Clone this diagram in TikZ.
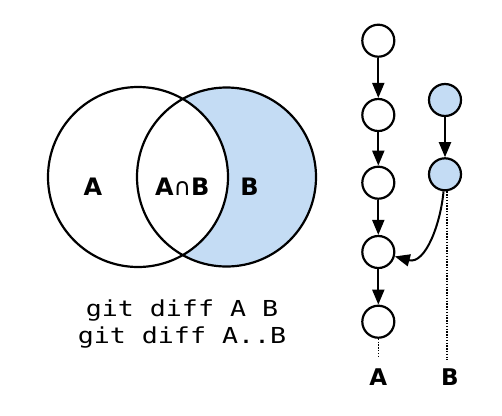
\documentclass[tikz,border=0pt]{standalone}
\usepackage{fontspec}
\usepackage{graphicx}
\setmainfont{DejaVu Sans}
\newfontfamily\monofont{DejaVu Sans Mono}
\usetikzlibrary{arrows.meta}
\definecolor{lblue}{RGB}{196,220,244}
\begin{document}
\begin{tikzpicture}[x=1pt,y=-1pt,
  commit/.style={circle,draw,line width=2.2pt,minimum size=32pt,inner sep=0pt},
  bcommit/.style={commit,fill=lblue},
  arr/.style={line width=2pt,-{Triangle[length=15pt,width=12pt]}},
  dots/.style={line width=1.5pt,dash pattern=on 1.3pt off 1.5pt},
  setline/.style={line width=2.2pt},
  vlabel/.style={font=\fontsize{24}{28}\selectfont\bfseries,anchor=base,inner sep=0pt},
  blabel/.style={font=\fontsize{23}{27}\selectfont\bfseries,anchor=base,inner sep=0pt},
  code/.style={anchor=base,inner sep=0pt}]
\useasboundingbox[fill=white] (0,0) rectangle (502,415);
% Venn diagram
\fill[lblue] (226.5,177) circle[radius=89.5];
\fill[white] (138,177) circle[radius=90];
\draw[setline] (138,177) circle[radius=90];
\draw[setline] (226.5,177) circle[radius=89.5];
\node[vlabel] (la) at (93,195) {A};
\node[vlabel] (lab) at (182.3,195) {A{\mdseries ∩}B};
\node[vlabel] (lb) at (249.5,195) {B};
% commands
\node[code] (c1) at (182,316) {\scalebox{1.21}[1]{\monofont\fontsize{22}{26}\selectfont git diff A B}};
\node[code] (c2) at (182,343) {\scalebox{1.21}[1]{\monofont\fontsize{22}{26}\selectfont git diff A..B}};
% commit graph
\node[commit] (a1) at (378.3,40.7) {};
\node[commit] (a2) at (378.3,115) {};
\node[commit] (a3) at (378.3,182.7) {};
\node[commit] (a4) at (378.3,252) {};
\node[commit] (a5) at (378.3,321.7) {};
\node[bcommit] (b1) at (445,100) {};
\node[bcommit] (b2) at (445,174.3) {};
\draw[arr] (a1) -- (a2);
\draw[arr] (a2) -- (a3);
\draw[arr] (a3) -- (a4);
\draw[arr] (a4) -- (a5);
\draw[arr] (b1) -- (b2);
\draw[arr] (b2) to[out=-95,in=-15] (a4);
\coordinate (aend) at (378.3,358);
\coordinate (bend) at (447,360);
\draw[dots] (a5) -- (aend);
\draw[dots] (b2.south -| bend) -- (bend);
\node[blabel] (labA) at (378.3,385) {A};
\node[blabel] (labB) at (450,385) {B};
\end{tikzpicture}
\end{document}
